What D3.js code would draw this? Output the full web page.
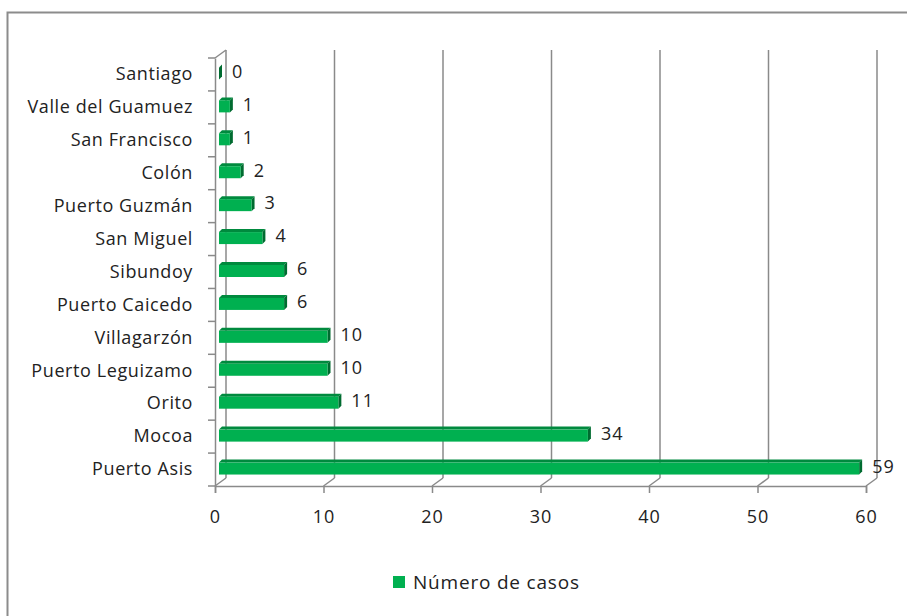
<!DOCTYPE html>
<html>
<head>
<meta charset="utf-8">
<script src="https://cdnjs.cloudflare.com/ajax/libs/d3/7.8.5/d3.min.js"></script>
<style>
  body { margin: 0; background: #fff; }
  svg text { font-family: "Open Sans", "DejaVu Sans", sans-serif; fill: #222; }
</style>
</head>
<body>
<div id="chart"></div>
<script>
var categories = ["Puerto Asis", "Mocoa", "Orito", "Puerto Leguizamo", "Villagarzón",
  "Puerto Caicedo", "Sibundoy", "San Miguel", "Puerto Guzmán", "Colón",
  "San Francisco", "Valle del Guamuez", "Santiago"];
var casos = [59, 34, 11, 10, 10, 6, 6, 4, 3, 2, 1, 1, 0];
var xTicks = [0, 10, 20, 30, 40, 50, 60];
var seriesName = "Número de casos";

var W = 907, H = 616;
var plotL = 215, plotR = 866, plotT = 58, plotB = 486;
var depthX = 11, depthY = -8;   // back wall offset
var barDx = 4, barDy = -3;      // bar sits in middle of depth
var faceH = 12, topDx = 3, topDy = -3;

var svg = d3.select("#chart").append("svg")
  .attr("width", W).attr("height", H);

// outer frame (right/bottom run off the picture)
svg.append("path")
  .attr("d", "M7.5," + H + "V12.5H" + W)
  .attr("fill", "none").attr("stroke", "#8c8c8c").attr("stroke-width", 2);

var x = d3.scaleLinear().domain([0, 60]).range([plotL, plotR]);
var y = d3.scaleBand().domain(categories).range([plotB, plotT]);

var grid = "#8a8a8a";

// back wall gridlines
svg.append("g").selectAll("line").data(xTicks).join("line")
  .attr("x1", d => x(d) + depthX).attr("x2", d => x(d) + depthX)
  .attr("y1", plotT + depthY).attr("y2", plotB + depthY)
  .attr("stroke", grid).attr("stroke-width", 1.5);

// floor diagonals
svg.append("g").selectAll("line").data(xTicks).join("line")
  .attr("x1", d => x(d)).attr("x2", d => x(d) + depthX)
  .attr("y1", plotB).attr("y2", plotB + depthY)
  .attr("stroke", grid).attr("stroke-width", 1.5);

// left wall top diagonal
svg.append("line")
  .attr("x1", plotL).attr("y1", plotT).attr("x2", plotL + depthX).attr("y2", plotT + depthY)
  .attr("stroke", grid).attr("stroke-width", 1.5);

// axes
var xAxis = svg.append("g")
  .attr("transform", "translate(0," + plotB + ")")
  .call(d3.axisBottom(x).tickValues(xTicks).tickSize(7).tickPadding(17));
var yAxis = svg.append("g")
  .attr("transform", "translate(" + plotL + ",0)")
  .call(d3.axisLeft(y).tickSize(0).tickPadding(22));

[xAxis, yAxis].forEach(function (g) {
  g.select(".domain").attr("stroke", grid).attr("stroke-width", 1.5);
  g.selectAll(".tick line").attr("stroke", grid).attr("stroke-width", 1.5);
  g.selectAll("text").attr("fill", "#222");
});
xAxis.selectAll("text").style("font-size", "18px").style("letter-spacing", "1px");
yAxis.selectAll("text").style("font-size", "18px").style("letter-spacing", "0.6px");

// left ticks between categories
svg.append("g").selectAll("line")
  .data(d3.range(categories.length + 1))
  .join("line")
  .attr("x1", plotL - 7).attr("x2", plotL)
  .attr("y1", i => plotB - i * y.step()).attr("y2", i => plotB - i * y.step())
  .attr("stroke", grid).attr("stroke-width", 1.5);

// bars
var bars = svg.append("g").selectAll("g").data(categories).join("g")
  .attr("transform", function (c) {
    var cy = y(c) + y.bandwidth() / 2 + barDy - faceH / 2 + 2;
    return "translate(" + (plotL + barDx) + "," + cy + ")";
  });

bars.each(function (c, i) {
  var g = d3.select(this);
  var w = x(casos[i]) - plotL;
  // top face
  g.append("path")
    .attr("d", "M0,0L" + topDx + "," + topDy + "L" + (w + topDx) + "," + topDy + "L" + w + ",0Z")
    .attr("fill", "#008a3e");
  // right face
  g.append("path")
    .attr("d", "M" + w + ",0L" + (w + topDx) + "," + topDy + "L" + (w + topDx) + "," + (faceH + topDy) + "L" + w + "," + faceH + "Z")
    .attr("fill", "#006b30");
  // front face
  g.append("rect")
    .attr("width", w).attr("height", faceH)
    .attr("fill", "#00b050");
  // value label
  g.append("text")
    .attr("x", w + 13).attr("y", faceH / 2 - 2)
    .attr("dy", "0.35em")
    .style("font-size", "18px")
    .style("letter-spacing", "1px")
    .text(casos[i]);
});

// legend
var legend = svg.append("g").attr("transform", "translate(393,576)");
legend.append("rect").attr("width", 12).attr("height", 12).attr("fill", "#00b050");
legend.append("text").attr("x", 20).attr("y", 6).attr("dy", "0.35em")
  .style("font-size", "19px").style("letter-spacing", "0.8px").text(seriesName);
</script>
</body>
</html>
